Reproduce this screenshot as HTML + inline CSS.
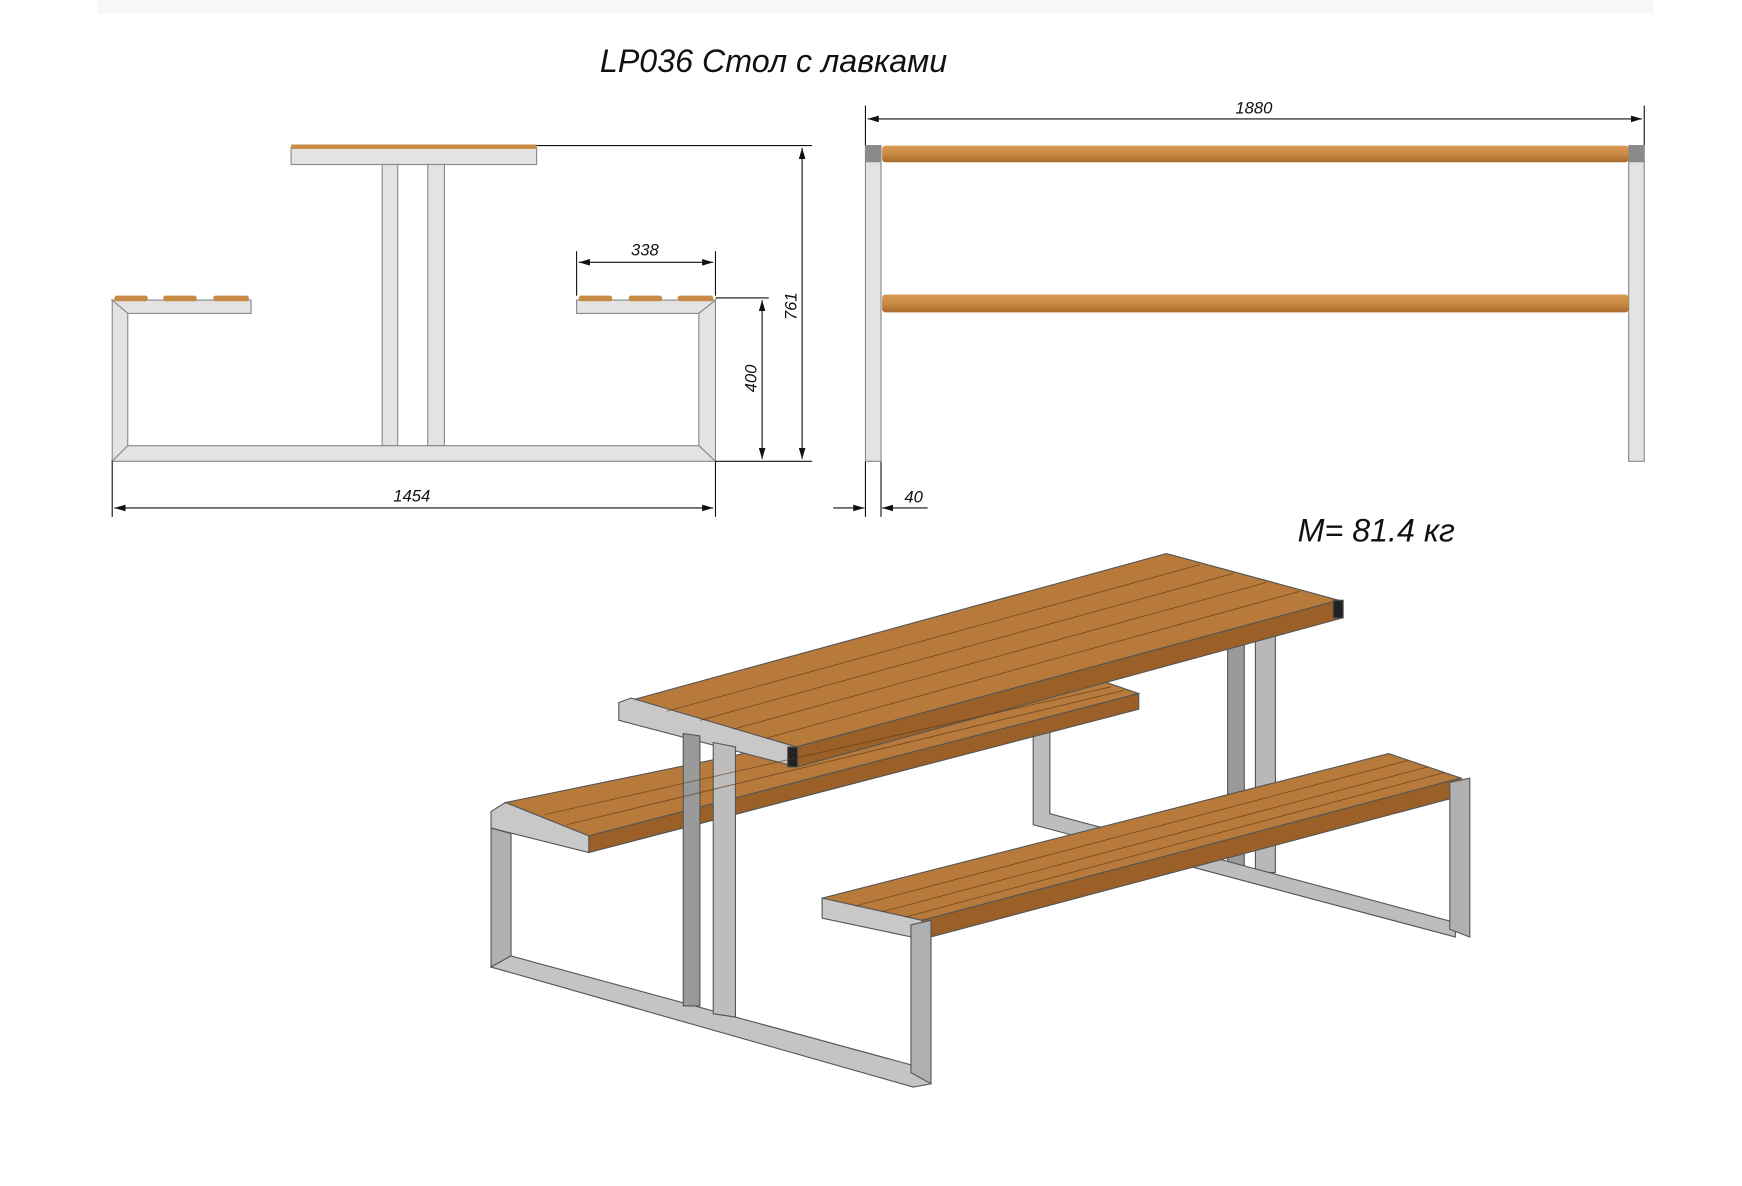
<!DOCTYPE html>
<html><head><meta charset="utf-8"><style>
html,body{margin:0;padding:0;background:#fff;width:1742px;height:1186px;overflow:hidden}
svg{display:block}
text{font-family:"Liberation Sans",sans-serif;font-style:italic;fill:#111}
</style></head><body>
<svg width="1742" height="1186" viewBox="0 0 1568 1067" preserveAspectRatio="none">
<defs>
<linearGradient id="wd" x1="0" y1="0" x2="0" y2="1"><stop offset="0" stop-color="#d99a55"/><stop offset="0.5" stop-color="#c98a45"/><stop offset="1" stop-color="#a86a2c"/></linearGradient>
<marker id="a" viewBox="0 0 10 6" refX="10" refY="3" markerWidth="10" markerHeight="6" orient="auto-start-reverse"><path d="M0,0L10,3L0,6Z" fill="#111"/></marker>
</defs>
<rect x="88" y="0" width="1400" height="12" fill="#f7f7f7"/>
<text x="540" y="65" font-size="29">LP036 Стол с лавками</text>
<g stroke="#888" stroke-width="1" fill="#e3e3e3">
<rect x="262" y="133" width="221" height="15"/>
<rect x="344" y="148" width="14" height="253"/>
<rect x="385" y="148" width="15" height="253"/>
<path d="M101,270L226,270L226,282L115,282Z"/>
<path d="M519,270L644,270L629,282L519,282Z"/>
<path d="M101,270L115,282L115,401L101,415Z"/>
<path d="M644,270L629,282L629,401L644,415Z"/>
<path d="M115,401L629,401L644,415L101,415Z"/>
</g>
<rect x="262" y="130" width="221" height="4" fill="#c98a45"/>
<g fill="#c98a45"><rect x="103" y="266" width="30" height="5" rx="2"/><rect x="147" y="266" width="30" height="5" rx="2"/><rect x="192" y="266" width="32" height="5" rx="2"/>
<rect x="521" y="266" width="30" height="5" rx="2"/><rect x="566" y="266" width="30" height="5" rx="2"/><rect x="610" y="266" width="32" height="5" rx="2"/></g>
<g stroke="#111" stroke-width="1" fill="none">
<line x1="483" y1="131" x2="731" y2="131"/><line x1="644" y1="268" x2="692" y2="268"/><line x1="644" y1="415" x2="731" y2="415"/>
<line x1="722" y1="133" x2="722" y2="413" marker-start="url(#a)" marker-end="url(#a)"/>
<line x1="686" y1="270" x2="686" y2="413" marker-start="url(#a)" marker-end="url(#a)"/>
<line x1="101" y1="415" x2="101" y2="465"/><line x1="644" y1="415" x2="644" y2="465"/>
<line x1="103" y1="457" x2="642" y2="457" marker-start="url(#a)" marker-end="url(#a)"/>
<line x1="519" y1="226" x2="519" y2="266"/><line x1="644" y1="226" x2="644" y2="266"/>
<line x1="521" y1="236" x2="642" y2="236" marker-start="url(#a)" marker-end="url(#a)"/>
<line x1="779" y1="95" x2="779" y2="131"/><line x1="1480" y1="95" x2="1480" y2="131"/>
<line x1="781" y1="107" x2="1478" y2="107" marker-start="url(#a)" marker-end="url(#a)"/>
<line x1="779" y1="415" x2="779" y2="465"/><line x1="793" y1="415" x2="793" y2="465"/>
<line x1="750" y1="457" x2="778" y2="457" marker-end="url(#a)"/><line x1="835" y1="457" x2="794" y2="457" marker-end="url(#a)"/>
</g>
<text x="354" y="451" font-size="15">1454</text>
<text x="568" y="230" font-size="15">338</text>
<text transform="translate(681,353) rotate(-90)" font-size="15">400</text>
<text transform="translate(717,288) rotate(-90)" font-size="15">761</text>
<text x="1112" y="102" font-size="15">1880</text>
<text x="814" y="452" font-size="15">40</text>
<g stroke="#888" fill="#e3e3e3"><rect x="779" y="131" width="14" height="284"/><rect x="1466" y="131" width="14" height="284"/></g>
<rect x="779" y="131" width="14" height="15" fill="#8a8a8a"/><rect x="1466" y="131" width="14" height="15" fill="#8a8a8a"/>
<rect x="794" y="131" width="672" height="15" rx="3" fill="url(#wd)"/>
<rect x="794" y="265" width="672" height="16" rx="3" fill="url(#wd)"/>
<text x="1168" y="487" font-size="29">M= 81.4 кг</text>
<g stroke="#555" stroke-width="1">
<path d="M1105,565L1120,565L1120,785L1105,785Z" fill="#9a9a9a"/>
<path d="M1130,560L1148,560L1148,785L1130,785Z" fill="#b8b8b8"/>
<path d="M930,650L945,650L945,732L1310,830L1310,843L930,742Z" fill="#bdbdbd"/>
<path d="M455,722L990,612L1025,624L530,752Z" fill="#b87a3a"/>
<path d="M530,752L1025,624L1025,638L530,767Z" fill="#9a6028"/>
<path d="M442,730L455,722L530,752L530,767L442,745Z" fill="#c8c8c8"/>
<path d="M442,745L460,750L460,860L442,870Z" fill="#b0b0b0"/>
<path d="M442,870L460,860L820,958L838,975L822,978Z" fill="#c4c4c4"/>
<path d="M568,630L1050,498L1205,540L717,672Z" fill="#b87a3a"/>
<path d="M717,672L1205,540L1208,556L717,690Z" fill="#9a6028"/>
<path d="M557,632L568,628L717,672L717,690L557,648Z" fill="#c8c8c8"/>
<rect x="1200" y="540" width="9" height="16" fill="#222"/><rect x="709" y="672" width="9" height="18" fill="#222"/>
<path d="M615,660L630,662L630,905L615,905Z" fill="#9a9a9a"/>
<path d="M642,668L662,672L662,915L642,912Z" fill="#bdbdbd"/>
<path d="M740,808L1250,678L1315,700L830,828Z" fill="#b87a3a"/>
<path d="M830,828L1315,700L1315,716L830,845Z" fill="#9a6028"/>
<path d="M740,808L830,828L830,845L740,826Z" fill="#c8c8c8"/>
<path d="M820,832L838,828L838,975L820,965Z" fill="#b0b0b0"/>
<path d="M1305,704L1323,700L1323,843L1305,836Z" fill="#b0b0b0"/>
</g>
<g stroke="#5a3a1a" stroke-width="0.8" opacity="0.7">
<line x1="600" y1="640" x2="1080" y2="508"/><line x1="630" y1="648" x2="1110" y2="516"/><line x1="660" y1="656" x2="1140" y2="524"/><line x1="690" y1="664" x2="1170" y2="532"/>
<line x1="490" y1="733" x2="1000" y2="618"/><line x1="510" y1="742" x2="1012" y2="621"/>
<line x1="770" y1="815" x2="1268" y2="684"/><line x1="795" y1="820" x2="1285" y2="690"/><line x1="815" y1="825" x2="1300" y2="695"/>
</g>
</svg>
</body></html>
